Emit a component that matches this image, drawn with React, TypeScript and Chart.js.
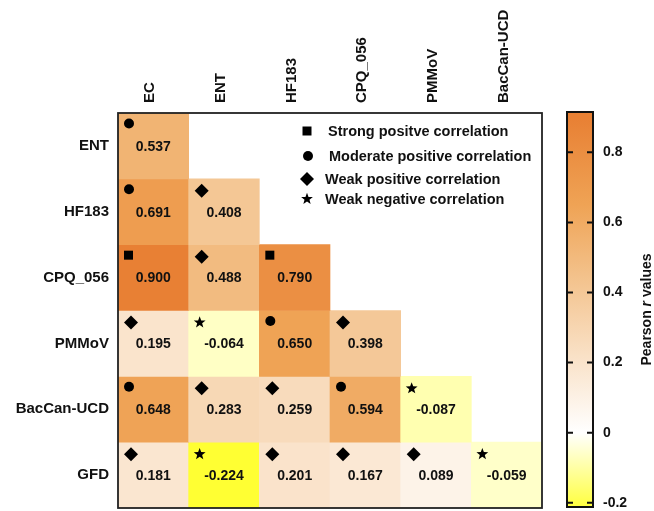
import React, { useEffect, useRef } from 'react';
import { Chart, registerables } from 'chart.js';

Chart.register(...registerables);

// ---- data ----
const columns = ['EC', 'ENT', 'HF183', 'CPQ_056', 'PMMoV', 'BacCan-UCD'];
const rows = ['ENT', 'HF183', 'CPQ_056', 'PMMoV', 'BacCan-UCD', 'GFD'];
const rowENT = [0.537];
const rowHF183 = [0.691, 0.408];
const rowCPQ056 = [0.9, 0.488, 0.79];
const rowPMMoV = [0.195, -0.064, 0.65, 0.398];
const rowBacCan = [0.648, 0.283, 0.259, 0.594, -0.087];
const rowGFD = [0.181, -0.224, 0.201, 0.167, 0.089, -0.059];
const rValues = [rowENT, rowHF183, rowCPQ056, rowPMMoV, rowBacCan, rowGFD];
const colorTicks = [-0.2, 0, 0.2, 0.4, 0.6, 0.8];
const colorMin = -0.212;
const colorMax = 0.915;
const legendLabels = [
  'Strong positve correlation',
  'Moderate positive correlation',
  'Weak positive correlation',
  'Weak negative correlation',
];
const legendSymbols = ['square', 'circle', 'diamond', 'star'];

// ---- style ----
const FONT = "'Liberation Sans', Arial, Helvetica, sans-serif";
const colorStops: [number, number[]][] = [
  [-0.224, [255, 255, 51]],
  [0, [255, 255, 255]],
  [0.45, [243, 193, 138]],
  [0.65, [239, 163, 85]],
  [0.9, [232, 128, 52]],
];

function colorFor(v: number): string {
  let c = colorStops[0][1];
  if (v >= colorStops[colorStops.length - 1][0]) c = colorStops[colorStops.length - 1][1];
  else if (v > colorStops[0][0]) {
    for (let k = 0; k < colorStops.length - 1; k++) {
      const [a, ca] = colorStops[k];
      const [b, cb] = colorStops[k + 1];
      if (v >= a && v <= b) {
        const t = (v - a) / (b - a);
        c = ca.map((x, i) => Math.round(x + (cb[i] - x) * t));
        break;
      }
    }
  }
  return `rgb(${c[0]},${c[1]},${c[2]})`;
}

function symbolFor(v: number): string {
  if (v < 0) return 'star';
  if (v >= 0.7) return 'square';
  if (v >= 0.5) return 'circle';
  return 'diamond';
}

function drawSymbol(ctx: CanvasRenderingContext2D, sym: string, x: number, y: number) {
  ctx.save();
  ctx.fillStyle = '#000';
  ctx.beginPath();
  if (sym === 'square') {
    ctx.rect(x - 4.5, y - 4.5, 9, 9);
  } else if (sym === 'circle') {
    ctx.arc(x, y, 5, 0, Math.PI * 2);
  } else if (sym === 'diamond') {
    ctx.moveTo(x, y - 7);
    ctx.lineTo(x + 7, y);
    ctx.lineTo(x, y + 7);
    ctx.lineTo(x - 7, y);
    ctx.closePath();
  } else {
    const R = 6.2, r = 2.6;
    for (let k = 0; k < 10; k++) {
      const ang = -Math.PI / 2 + (k * Math.PI) / 5;
      const rad = k % 2 === 0 ? R : r;
      const px = x + rad * Math.cos(ang);
      const py = y + rad * Math.sin(ang);
      if (k === 0) ctx.moveTo(px, py);
      else ctx.lineTo(px, py);
    }
    ctx.closePath();
  }
  ctx.fill();
  ctx.restore();
}

const symbolOffset: Record<string, [number, number]> = {
  square: [10.5, 10.5],
  circle: [11, 10.5],
  diamond: [13, 12],
  star: [11, 12],
};

const cellPlugin = {
  id: 'cellDecor',
  afterDatasetsDraw(chart: any) {
    const ctx = chart.ctx as CanvasRenderingContext2D;
    rValues.forEach((vals, i) => {
      const meta = chart.getDatasetMeta(i);
      vals.forEach((v, j) => {
        const el = meta.data[j];
        if (!el) return;
        const p = el.getProps(['x', 'y', 'base', 'width'], true);
        const left = p.x - p.width / 2;
        const top = Math.min(p.y, p.base);
        const bottom = Math.max(p.y, p.base);
        ctx.save();
        ctx.fillStyle = '#111';
        ctx.font = `bold 14px ${FONT}`;
        ctx.textAlign = 'center';
        ctx.textBaseline = 'middle';
        ctx.fillText(v.toFixed(3), p.x, (top + bottom) / 2 + 1);
        ctx.restore();
        const sym = symbolFor(v);
        const off = symbolOffset[sym];
        drawSymbol(ctx, sym, left + off[0], top + off[1]);
      });
    });
    // legend
    const ca = chart.chartArea;
    const lx = ca.left + 189;
    const ly = [ca.top + 18, ca.top + 43, ca.top + 66, ca.top + 86];
    const tx = [21, 22, 18, 18];
    legendLabels.forEach((lab, k) => {
      const sym = legendSymbols[k];
      drawSymbol(ctx, sym, lx + (k === 1 ? 1 : 0), ly[k]);
      ctx.save();
      ctx.fillStyle = '#111';
      ctx.font = `bold 14.5px ${FONT}`;
      ctx.textAlign = 'left';
      ctx.textBaseline = 'middle';
      ctx.fillText(lab, lx + tx[k], ly[k] + 1);
      ctx.restore();
    });
    // border
    ctx.save();
    ctx.strokeStyle = '#222';
    ctx.lineWidth = 1.8;
    ctx.strokeRect(ca.left, ca.top, ca.right - ca.left, ca.bottom - ca.top);
    ctx.restore();
  },
};

const colorbarPlugin = {
  id: 'colorbarDecor',
  afterDatasetsDraw(chart: any) {
    const ctx = chart.ctx as CanvasRenderingContext2D;
    const ca = chart.chartArea;
    const ys = chart.scales.y;
    ctx.save();
    ctx.strokeStyle = '#111';
    ctx.lineWidth = 2;
    colorTicks.forEach((t) => {
      const py = ys.getPixelForValue(t);
      ctx.beginPath();
      ctx.moveTo(ca.left, py);
      ctx.lineTo(ca.left + 6, py);
      ctx.moveTo(ca.right - 6, py);
      ctx.lineTo(ca.right, py);
      ctx.stroke();
    });
    ctx.lineWidth = 2;
    ctx.strokeRect(ca.left, ca.top, ca.right - ca.left, ca.bottom - ca.top);
    ctx.restore();
    // title with italic r
    ctx.save();
    ctx.fillStyle = '#111';
    ctx.textBaseline = 'middle';
    ctx.textAlign = 'left';
    const parts: [string, string][] = [
      ['Pearson ', `bold 14px ${FONT}`],
      ['r', `italic bold 14px ${FONT}`],
      [' values', `bold 14px ${FONT}`],
    ];
    let total = 0;
    parts.forEach(([s, f]) => {
      ctx.font = f;
      total += ctx.measureText(s).width;
    });
    ctx.translate(chart.width - 7, (ca.top + ca.bottom) / 2);
    ctx.rotate(-Math.PI / 2);
    let x = -total / 2;
    parts.forEach(([s, f]) => {
      ctx.font = f;
      ctx.fillText(s, x, 0);
      x += ctx.measureText(s).width;
    });
    ctx.restore();
  },
};

export default function App() {
  const mainRef = useRef<HTMLCanvasElement>(null);
  const barRef = useRef<HTMLCanvasElement>(null);

  useEffect(() => {
    document.body.style.margin = '0';
    const main = new Chart(mainRef.current!, {
      type: 'bar',
      data: {
        labels: columns,
        datasets: rValues.map((vals, i) => ({
          label: rows[i],
          data: columns.map((_, j) => (j < vals.length ? [i, i + 1] : null)) as any,
          backgroundColor: columns.map((_, j) => (j < vals.length ? colorFor(vals[j]) : 'rgba(0,0,0,0)')),
          borderWidth: 0,
          barPercentage: 1,
          categoryPercentage: 1,
          grouped: false,
        })),
      },
      options: {
        responsive: false,
        animation: false,
        layout: { padding: { top: 0, left: 0, right: 18, bottom: 3 } },
        plugins: { legend: { display: false }, tooltip: { enabled: false } },
        scales: {
          x: {
            type: 'category',
            position: 'top',
            offset: true,
            grid: { display: false, drawTicks: false },
            border: { display: false },
            ticks: {
              autoSkip: false,
              maxRotation: 90,
              minRotation: 90,
              padding: 10,
              color: '#111',
              font: { family: FONT, size: 15, weight: 'bold', lineHeight: 0.2 },
            },
            afterFit: (s: any) => {
              s.height = 113;
              s.paddingLeft = 0;
              s.paddingRight = 0;
            },
          },
          y: {
            type: 'linear',
            min: 0,
            max: 6,
            reverse: true,
            position: 'left',
            grid: { display: false, drawTicks: false },
            border: { display: false },
            afterBuildTicks: (s: any) => {
              s.ticks = rows.map((_, i) => ({ value: i + 0.5 }));
            },
            ticks: {
              padding: 9,
              color: '#111',
              font: { family: FONT, size: 15, weight: 'bold' },
              callback: (v: any) => rows[Math.round(Number(v) - 0.5)],
            },
            afterFit: (s: any) => {
              s.width = 118;
              s.paddingTop = 0;
              s.paddingBottom = 0;
            },
          },
        },
      } as any,
      plugins: [cellPlugin],
    });

    const bar = new Chart(barRef.current!, {
      type: 'bar',
      data: {
        labels: ['r'],
        datasets: [
          {
            data: [[colorMin, colorMax]] as any,
            barPercentage: 1,
            categoryPercentage: 1,
            borderWidth: 0,
            backgroundColor: (c: any) => {
              const chart = c.chart;
              const ca = chart.chartArea;
              if (!ca) return colorFor(0.4);
              const ys = chart.scales.y;
              const y0 = ys.getPixelForValue(colorMin);
              const y1 = ys.getPixelForValue(colorMax);
              const g = chart.ctx.createLinearGradient(0, y0, 0, y1);
              g.addColorStop(0, colorFor(colorMin));
              colorStops.forEach(([v]) => {
                if (v > colorMin && v < colorMax) g.addColorStop((v - colorMin) / (colorMax - colorMin), colorFor(v));
              });
              g.addColorStop(1, colorFor(colorMax));
              return g;
            },
          },
        ],
      },
      options: {
        responsive: false,
        animation: false,
        layout: { padding: { top: 112, left: 19, right: 0, bottom: 4 } },
        plugins: { legend: { display: false }, tooltip: { enabled: false } },
        scales: {
          x: { display: false, offset: true },
          y: {
            type: 'linear',
            position: 'right',
            min: colorMin,
            max: colorMax,
            grid: { display: false, drawTicks: false },
            border: { display: false },
            afterBuildTicks: (s: any) => {
              s.ticks = colorTicks.map((v) => ({ value: v }));
            },
            ticks: {
              padding: 10,
              color: '#111',
              font: { family: FONT, size: 14, weight: 'bold' },
              callback: (v: any) => (Math.abs(Number(v)) < 1e-9 ? '0' : String(Math.round(Number(v) * 10) / 10)),
            },
            afterFit: (s: any) => {
              s.width = 61;
              s.paddingTop = 0;
              s.paddingBottom = 0;
            },
          },
        },
      } as any,
      plugins: [colorbarPlugin],
    });

    return () => {
      main.destroy();
      bar.destroy();
    };
  }, []);

  return (
    <div style={{ position: 'relative', width: 654, height: 511, background: '#fff' }}>
      <canvas ref={mainRef} width={560} height={511} style={{ position: 'absolute', left: 0, top: 0 }} />
      <canvas ref={barRef} width={106} height={511} style={{ position: 'absolute', left: 548, top: 0 }} />
    </div>
  );
}
